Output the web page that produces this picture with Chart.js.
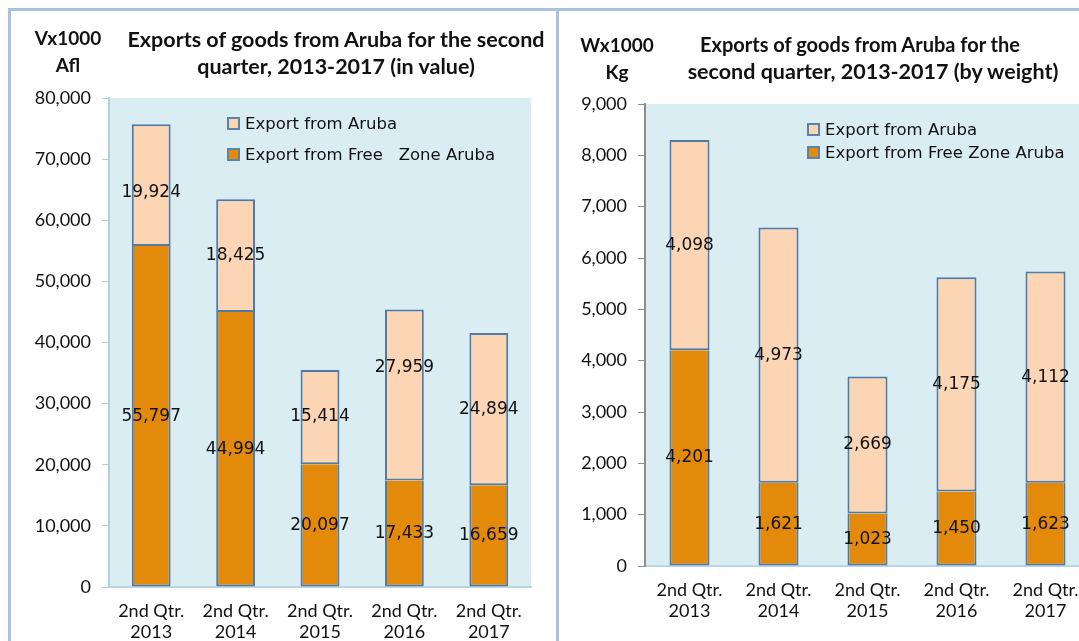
<!DOCTYPE html>
<html>
<head>
<meta charset="utf-8">
<script src="https://cdn.jsdelivr.net/npm/chart.js@4.4.1/dist/chart.umd.min.js"></script>
<style>
    body { margin: 0; width: 1079px; height: 641px; overflow: hidden; background: #fff; position: relative; font-family: Lato, sans-serif; }
    .panel { position: absolute; top: 8px; height: 700px; border: 3px solid #a9c3dd; box-sizing: border-box; }
    canvas { position: absolute; top: 0; }
    .txt { position: absolute; font-weight: bold; font-size: 19px; color: #111; text-align: center; white-space: nowrap; line-height: 27px; }
    .title { font-size: 21.5px; }
    .legend { position: absolute; font-family: "DejaVu Sans"; font-size: 16.5px; color: #111; }
    .legend div { display: flex; align-items: center; white-space: pre; }
    .legend span.box { display: inline-block; width: 9px; height: 9px; border: 2px solid #5a83ad; margin-right: 5px; }
</style>
</head>
<body>
<div class="panel" style="left:8px; width:551px;"></div>
<div class="panel" style="left:556px; width:600px;"></div>

<canvas id="valueChart" width="556" height="641" style="left:0"></canvas>
<canvas id="weightChart" width="620" height="641" style="left:557px"></canvas>

<div class="txt" style="left:18px; top:24px; width:100px;">Vx1000<br>Afl</div>
<div class="txt title" style="left:86px; top:26px; width:500px;">Exports of goods from Aruba for the second</div>
<div class="txt title" style="left:86px; top:53px; width:500px;">quarter, 2013-2017 (in value)</div>
<div class="txt" style="left:567px; top:31px; width:100px;">Wx1000<br>Kg</div>
<div class="txt title" style="left:610px; top:31px; width:500px; font-size:20px;">Exports of goods from Aruba for the</div>
<div class="txt title" style="left:623px; top:58px; width:500px;">second quarter, 2013-2017 (by weight)</div>

<div class="legend" id="valueLegend" style="left:227px; top:108px;"></div>
<div class="legend" id="weightLegend" style="left:807px; top:118px;"></div>

<script>
const categories = [
    ['2nd Qtr.', '2013'],
    ['2nd Qtr.', '2014'],
    ['2nd Qtr.', '2015'],
    ['2nd Qtr.', '2016'],
    ['2nd Qtr.', '2017']
];

// value, x1000 Afl
const valueFreeZone = [55797, 44994, 20097, 17433, 16659];
const valueAruba = [19924, 18425, 15414, 27959, 24894];
const valueNames = ['Export from Aruba', 'Export from Free   Zone Aruba'];

// weight, x1000 Kg
const weightFreeZone = [4201, 1621, 1023, 1450, 1623];
const weightAruba = [4098, 4973, 2669, 4175, 4112];
const weightNames = ['Export from Aruba', 'Export from Free Zone Aruba'];

const orange = '#e38a0b';
const peach = '#fcd5b4';
const barBorder = '#4f7aa6';

const plotBg = {
    id: 'plotBg',
    beforeDraw(chart) {
        const { ctx, chartArea } = chart;
        ctx.save();
        ctx.fillStyle = '#daedf3';
        ctx.fillRect(chartArea.left, chartArea.top, chartArea.right - chartArea.left, chartArea.bottom - chartArea.top);
        ctx.restore();
    }
};

const barLabels = {
    id: 'barLabels',
    afterDatasetsDraw(chart, args, opts) {
        const ctx = chart.ctx;
        ctx.save();
        ctx.font = '17px "DejaVu Sans"';
        ctx.fillStyle = '#111';
        ctx.textAlign = 'center';
        ctx.textBaseline = 'middle';
        chart.data.datasets.forEach((ds, di) => {
            chart.getDatasetMeta(di).data.forEach((bar, i) => {
                const nudge = (opts.nudge && opts.nudge[di + ':' + i]) || 0;
                ctx.fillText(ds.data[i].toLocaleString('en-US'), bar.x, (bar.y + bar.base) / 2 + nudge);
            });
        });
        ctx.restore();
    }
};

function makeChart(id, freeZone, aruba, names, cfg) {
    return new Chart(document.getElementById(id), {
        type: 'bar',
        data: {
            labels: categories,
            datasets: [{
                label: names[1],
                data: freeZone,
                backgroundColor: orange,
                borderColor: barBorder,
                borderWidth: { left: 2, right: 2, bottom: 2, top: 0 },
                borderSkipped: false
            }, {
                label: names[0],
                data: aruba,
                backgroundColor: peach,
                borderColor: barBorder,
                borderWidth: 2,
                borderSkipped: false
            }]
        },
        options: {
            responsive: false,
            animation: false,
            datasets: { bar: { categoryPercentage: 1, barPercentage: cfg.barPct } },
            layout: { padding: { left: 0, top: cfg.top, right: cfg.right, bottom: 0 } },
            plugins: {
                legend: { display: false },
                tooltip: { enabled: false },
                barLabels: { nudge: cfg.nudge }
            },
            scales: {
                x: {
                    stacked: true,
                    grid: { display: false, drawTicks: false },
                    border: { display: true, color: '#b9d5e6', width: 2 },
                    ticks: { color: '#111', padding: 13, font: { family: 'Lato', size: 18 } },
                    afterFit(scale) { scale.height = cfg.xHeight; }
                },
                y: {
                    stacked: true,
                    min: 0,
                    max: cfg.max,
                    ticks: { stepSize: cfg.step, color: '#111', padding: 11, font: { family: 'Lato', size: 18 } },
                    grid: { drawOnChartArea: false, tickLength: 7, color: cfg.axisColor },
                    border: { display: true, color: cfg.axisColor, width: 2 },
                    afterFit(scale) { scale.width = cfg.yWidth; }
                }
            }
        },
        plugins: [plotBg, barLabels]
    });
}

function makeLegend(id, chart) {
    const el = document.getElementById(id);
    const ds = chart.data.datasets.slice().reverse();
    ds.forEach(d => {
        const row = document.createElement('div');
        row.style.height = (id === 'valueLegend' ? 31 : 23) + 'px';
        row.innerHTML = '<span class="box" style="background:' + d.backgroundColor + '"></span>' + d.label;
        el.appendChild(row);
    });
}

const valueChart = makeChart('valueChart', valueFreeZone, valueAruba, valueNames, {
    max: 80000, step: 10000, barPct: 0.46, top: 98, right: 25, yWidth: 109, xHeight: 54,
    axisColor: '#b3d0e3', nudge: { '1:0': 8, '1:3': -27 }
});

const weightChart = makeChart('weightChart', weightFreeZone, weightAruba, weightNames, {
    max: 9000, step: 1000, barPct: 0.45, top: 104, right: 87, yWidth: 88, xHeight: 75,
    axisColor: '#8e8e8e', nudge: {}
});

makeLegend('valueLegend', valueChart);
makeLegend('weightLegend', weightChart);
</script>
</body>
</html>
